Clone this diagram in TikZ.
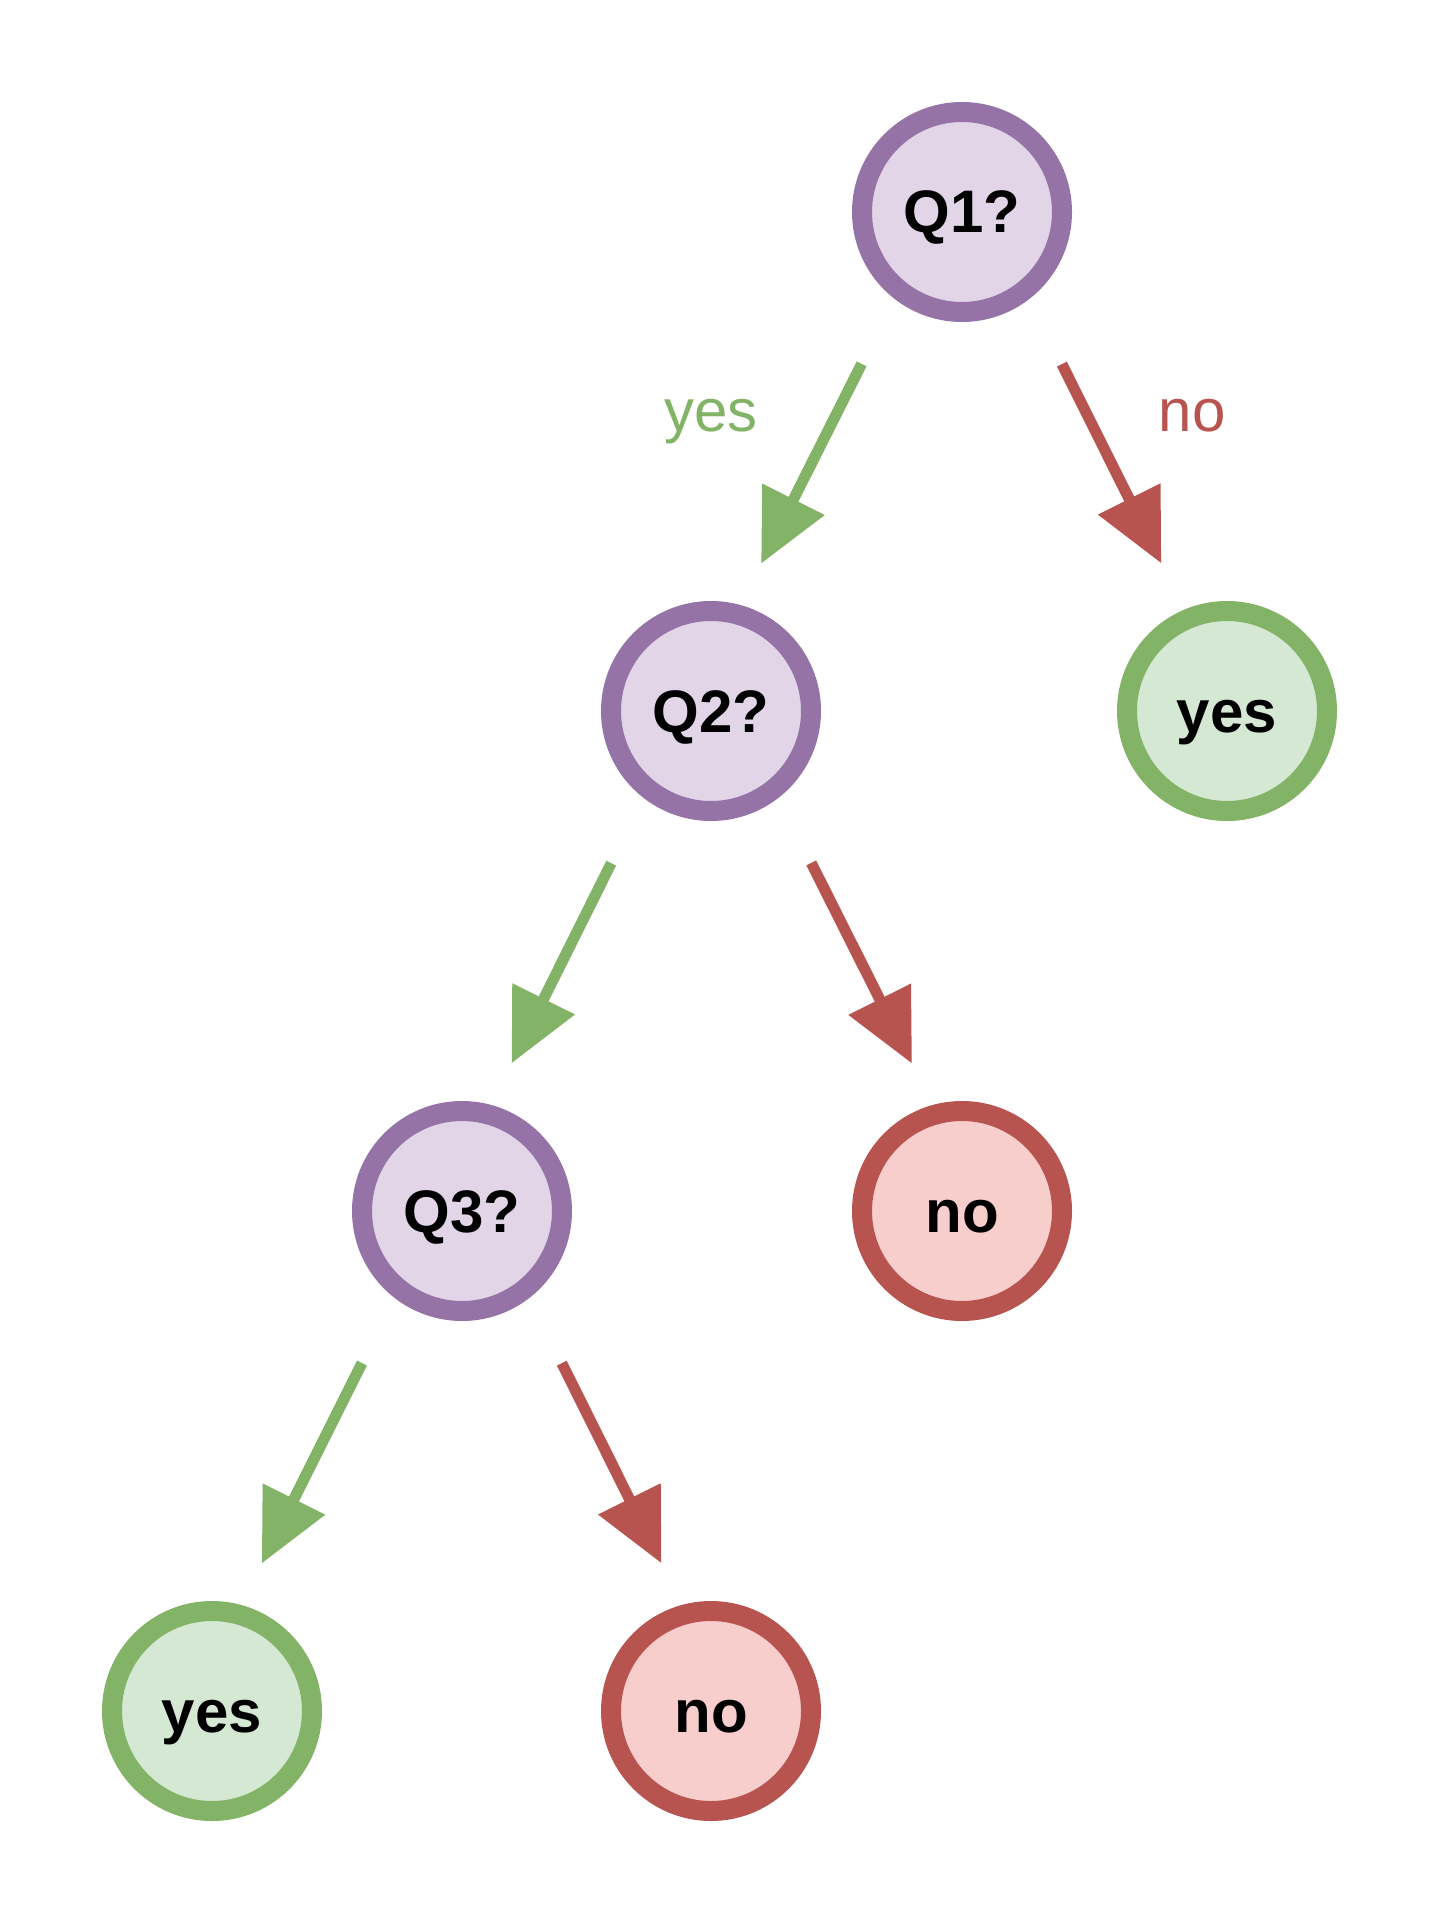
\documentclass[tikz,border=0pt]{standalone}
\usepackage{fontspec}
\setmainfont{Liberation Sans}
\usetikzlibrary{arrows.meta}

\definecolor{askdraw}{HTML}{9673A6}
\definecolor{askfill}{HTML}{E1D5E7}
\definecolor{yesdraw}{HTML}{82B366}
\definecolor{yesfill}{HTML}{D5E8D4}
\definecolor{nodraw}{HTML}{B85450}
\definecolor{nofill}{HTML}{F8CECC}

\begin{document}
\begin{tikzpicture}[x=0.5pt, y=-0.5pt,
  every node/.style={font=\fontsize{30}{36}\selectfont\bfseries},
  ask/.style={circle, draw=askdraw, fill=askfill, line width=10pt, minimum size=100pt, inner sep=0pt, text height=21pt, text depth=0pt},
  leafyes/.style={ask, draw=yesdraw, fill=yesfill},
  leafno/.style={ask, draw=nodraw, fill=nofill},
  branch/.style={line width=5.5pt, shorten <=85pt, shorten >=82.5pt, -{Triangle[length=36pt, width=33.5pt]}},
  yesbranch/.style={branch, draw=yesdraw},
  nobranch/.style={branch, draw=nodraw},
  lbl/.style={font=\fontsize{30}{36}\selectfont, anchor=base}]
  \useasboundingbox (0, 0) rectangle (1440, 1920);

  % Questions
  \node[ask] (q1) at (962, 212) {Q1?};
  \node[ask] (q2) at (711, 711) {Q2?};
  \node[ask] (q3) at (462, 1211) {Q3?};

  % Answers
  \node[leafyes] (yes1) at (1227, 711) {yes};
  \node[leafno] (no2) at (962, 1211) {no};
  \node[leafyes] (yes3) at (212, 1711) {yes};
  \node[leafno] (no3) at (711, 1711) {no};

  % Branches
  \draw[yesbranch] ([xshift=-12pt]q1.center) -- ([xshift=-12pt]q2.center);
  \draw[nobranch] ([xshift=12pt]q1.center) -- ([xshift=4pt]yes1.center);
  \draw[yesbranch] ([xshift=-12pt]q2.center) -- ([xshift=-12pt]q3.center);
  \draw[nobranch] ([xshift=12pt]q2.center) -- ([xshift=12pt]no2.center);
  \draw[yesbranch] ([xshift=-12pt]q3.center) -- ([xshift=-12pt]yes3.center);
  \draw[nobranch] ([xshift=12pt]q3.center) -- ([xshift=12pt]no3.center);

  % Branch labels
  \node[lbl, text=yesdraw] (lblyes) at (711, 431) {yes};
  \node[lbl, text=nodraw] (lblno) at (1192, 431) {no};
\end{tikzpicture}
\end{document}
